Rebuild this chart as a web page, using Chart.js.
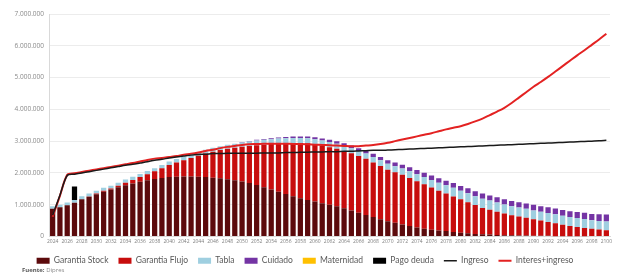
<!DOCTYPE html>
<html>
<head>
<meta charset="utf-8">
<script src="https://cdn.jsdelivr.net/npm/chart.js@4/dist/chart.umd.min.js"></script>
<style>
    html, body { margin: 0; padding: 0; background: #fff; }
    #wrap { position: relative; width: 634px; height: 276px; }
    #fuente { position: absolute; left: 22px; top: 266px; font: 6px 'Open Sans', sans-serif; color: #8a8a8a; }
    #fuente b { color: #555; }
</style>
</head>
<body>
<div id="wrap">
    <canvas id="chart" width="634" height="276"></canvas>
    <div id="fuente"><b>Fuente:</b> Dipres</div>
</div>
<script>
// years 2024..2100
var years = [];
for (var y = 2024; y <= 2100; y++) years.push(String(y));

// values in thousands
var garantiaStock = [870, 920, 980, 1060, 1170, 1250, 1330, 1410, 1480, 1550, 1610, 1670, 1720, 1770, 1810, 1840, 1870, 1880, 1890, 1890,
    1880, 1870, 1850, 1830, 1800, 1770, 1730, 1680, 1620, 1550, 1480, 1410, 1340, 1270, 1200, 1150, 1100, 1050, 1000, 950,
    890, 820, 750, 680, 610, 540, 480, 430, 380, 330, 280, 240, 210, 190, 170, 140, 120, 100, 80, 70,
    60, 50, 40, 40, 30, 30, 20, 20, 20, 10, 10, 10, 10, 10, 0, 0, 0];
var garantiaFlujo = [0, 0, 0, 0, 0, 10, 20, 30, 30, 50, 80, 110, 150, 190, 240, 310, 380, 450, 510, 580,
    660, 740, 820, 890, 960, 1020, 1090, 1170, 1250, 1340, 1430, 1510, 1590, 1670, 1740, 1780, 1800, 1810, 1810, 1810,
    1800, 1800, 1780, 1770, 1720, 1680, 1620, 1590, 1560, 1510, 1460, 1400, 1330, 1250, 1180, 1120, 1050, 980, 910, 830,
    780, 730, 680, 630, 600, 560, 520, 480, 440, 410, 360, 320, 290, 260, 240, 220, 200];
var tabla = [80, 80, 90, 90, 100, 90, 90, 90, 90, 90, 100, 100, 100, 100, 100, 100, 110, 110, 110, 110,
    120, 120, 120, 120, 130, 130, 140, 140, 150, 150, 150, 160, 160, 160, 160, 160, 160, 160, 160, 160,
    160, 160, 160, 160, 170, 180, 190, 190, 200, 210, 220, 230, 240, 250, 260, 270, 270, 280, 280, 290,
    290, 290, 290, 280, 280, 280, 280, 280, 280, 280, 280, 280, 280, 280, 270, 270, 270];
var cuidado = [0, 0, 0, 0, 0, 0, 0, 0, 0, 0, 0, 0, 0, 0, 0, 0, 0, 0, 0, 0,
    0, 0, 0, 0, 0, 0, 10, 15, 20, 25, 30, 35, 40, 45, 50, 55, 60, 65, 70, 75,
    80, 85, 90, 95, 100, 105, 110, 115, 120, 125, 130, 135, 140, 140, 145, 150, 150, 155, 155, 160,
    160, 165, 165, 170, 170, 170, 175, 175, 180, 180, 185, 185, 190, 195, 200, 210, 220];
var maternidad = [0, 0, 0, 0, 0, 0, 0, 0, 0, 0, 0, 0, 0, 0, 0, 0, 0, 0, 0, 0,
    0, 0, 0, 0, 0, 0, 0, 0, 0, 0, 0, 0, 0, 0, 0, 0, 0, 0, 0, 0,
    0, 0, 0, 0, 0, 0, 0, 0, 0, 0, 0, 0, 0, 0, 0, 0, 0, 0, 0, 0,
    0, 0, 0, 0, 0, 0, 0, 0, 0, 0, 0, 0, 0, 0, 0, 0, 0];
var pagoDeuda = [0, 0, 0, 420];
var ingreso = [670, 1300, 1920, 1960, 2000, 2040, 2080, 2120, 2160, 2200, 2240, 2270, 2310, 2350, 2400, 2430, 2470, 2500, 2530, 2560,
    2580, 2590, 2610, 2610, 2620, 2620, 2620, 2620, 2620, 2630, 2630, 2630, 2640, 2640, 2650, 2650, 2660, 2660, 2670, 2670,
    2680, 2680, 2690, 2700, 2710, 2710, 2720, 2730, 2740, 2750, 2760, 2770, 2780, 2790, 2800, 2810, 2820, 2830, 2840, 2850,
    2860, 2870, 2880, 2890, 2900, 2910, 2920, 2930, 2940, 2950, 2960, 2970, 2980, 2990, 3000, 3010, 3030];
var interesIngreso = [620, 1280, 1940, 1990, 2030, 2070, 2110, 2150, 2190, 2230, 2270, 2310, 2360, 2410, 2450, 2470, 2500, 2530, 2570, 2600,
    2640, 2690, 2730, 2780, 2820, 2850, 2880, 2900, 2910, 2920, 2920, 2920, 2920, 2910, 2910, 2900, 2890, 2880, 2870, 2860,
    2850, 2840, 2840, 2860, 2880, 2910, 2950, 3000, 3050, 3100, 3150, 3200, 3250, 3310, 3370, 3420, 3470, 3540, 3620, 3710,
    3820, 3930, 4050, 4200, 4370, 4540, 4710, 4860, 5020, 5190, 5360, 5530, 5700, 5860, 6030, 6200, 6380];
var yTicks = [0, 1000, 2000, 3000, 4000, 5000, 6000, 7000];

function bar(label, data, color) {
    return { type: 'bar', label: label, data: data, backgroundColor: color, stack: 'g', order: 2,
        barPercentage: 0.72, categoryPercentage: 1 };
}
function line(label, data, color, w, stack) {
    return { type: 'line', label: label, data: data, borderColor: color, backgroundColor: color, borderWidth: w,
        pointRadius: 0, tension: 0.3, stack: stack, order: 1 };
}

var ctx = document.getElementById('chart').getContext('2d');
var chart = new Chart(ctx, {
    data: {
        labels: years,
        datasets: [
            bar('Garantia Stock', garantiaStock, '#5c0a0c'),
            bar('Garantia Flujo', garantiaFlujo, '#c70d0d'),
            bar('Tabla', tabla, '#9fcfe0'),
            bar('Cuidado', cuidado, '#7434a4'),
            bar('Maternidad', maternidad, '#ffc000'),
            bar('Pago deuda', pagoDeuda, '#000000'),
            line('Ingreso', ingreso, '#1a1a1a', 1.5, 'l1'),
            line('Interes+ingreso', interesIngreso, '#e32222', 2, 'l2'),
        ],
    },
    options: {
        responsive: false,
        animation: false,
        layout: { padding: { left: 0, right: 24, top: 14, bottom: 1 } },
        scales: {
            x: {
                stacked: true,
                grid: { display: false, drawTicks: false },
                border: { color: '#d9d9d9' },
                ticks: {
                    autoSkip: false,
                    maxRotation: 0,
                    padding: 2,
                    color: '#7f7f7f',
                    font: { family: 'Open Sans', size: 5 },
                    callback: function (v, i) { return i % 2 === 0 ? years[i] : ''; },
                },
            },
            y: {
                stacked: true,
                min: 0,
                max: 7000,
                afterFit: function (s) { s.width = 49; },
                afterBuildTicks: function (s) { s.ticks = yTicks.map(function (v) { return { value: v }; }); },
                grid: { color: '#ececec', drawTicks: false },
                border: { color: '#d9d9d9' },
                ticks: {
                    padding: 5,
                    color: '#8a8a8a',
                    font: { family: 'Open Sans', size: 6.5 },
                    callback: function (v) { return (v * 1000).toLocaleString('de-DE'); },
                },
            },
        },
        plugins: {
            legend: {
                position: 'bottom',
                labels: {
                    usePointStyle: true,
                    pointStyleWidth: 13,
                    boxHeight: 6,
                    padding: 10,
                    color: '#595959',
                    font: { family: 'Lato', size: 8.5 },
                    sort: function (a, b) { return a.datasetIndex - b.datasetIndex; },
                    generateLabels: function (c) {
                        var items = Chart.defaults.plugins.legend.labels.generateLabels(c);
                        items.forEach(function (it) {
                            var ds = c.data.datasets[it.datasetIndex];
                            it.pointStyle = ds.type === 'line' ? 'line' : 'rect';
                            if (ds.type === 'bar') { it.lineWidth = 0; }
                        });
                        return items;
                    },
                },
            },
            tooltip: { enabled: false },
        },
    },
});
</script>
</body>
</html>
